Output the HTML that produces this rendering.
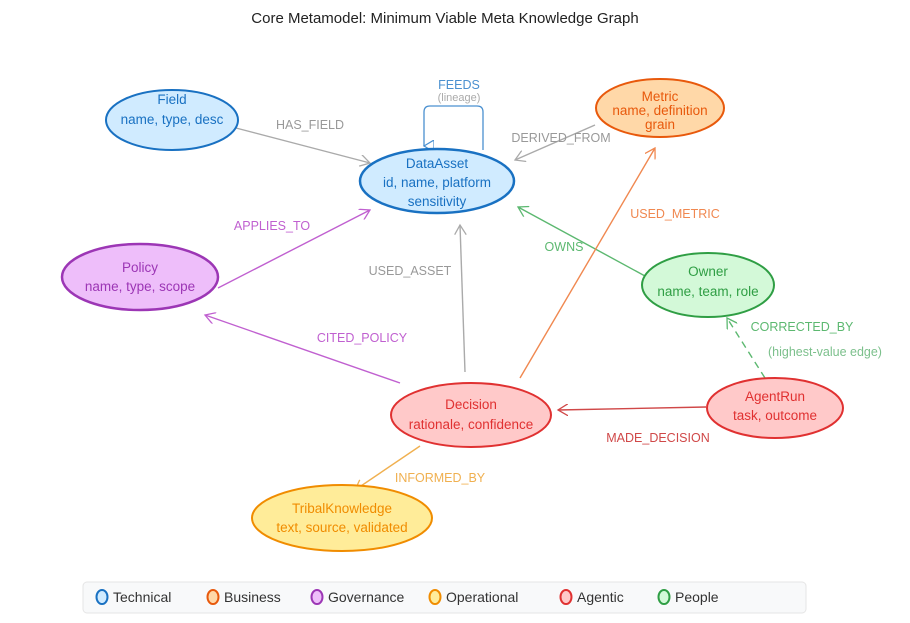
<!DOCTYPE html>
<html><head><meta charset="utf-8"><style>
html,body{margin:0;padding:0;background:#fff;}
svg{display:block;font-family:"Liberation Sans",sans-serif;}
</style></head><body>
<svg width="910" height="623" viewBox="0 0 910 623" xmlns="http://www.w3.org/2000/svg">
<defs>
<marker id="ag" markerWidth="12" markerHeight="12" refX="10" refY="6" orient="auto" markerUnits="userSpaceOnUse"><path d="M0,0 L10,6 L0,12" fill="none" stroke="#aaa" stroke-width="1.3"/></marker>
<marker id="ap" markerWidth="12" markerHeight="12" refX="10" refY="6" orient="auto" markerUnits="userSpaceOnUse"><path d="M0,0 L10,6 L0,12" fill="none" stroke="#c060d0" stroke-width="1.3"/></marker>
<marker id="agr" markerWidth="12" markerHeight="12" refX="10" refY="6" orient="auto" markerUnits="userSpaceOnUse"><path d="M0,0 L10,6 L0,12" fill="none" stroke="#5cb870" stroke-width="1.3"/></marker>
<marker id="ao" markerWidth="12" markerHeight="12" refX="10" refY="6" orient="auto" markerUnits="userSpaceOnUse"><path d="M0,0 L10,6 L0,12" fill="none" stroke="#f08850" stroke-width="1.3"/></marker>
<marker id="ar" markerWidth="12" markerHeight="12" refX="10" refY="6" orient="auto" markerUnits="userSpaceOnUse"><path d="M0,0 L10,6 L0,12" fill="none" stroke="#d04848" stroke-width="1.3"/></marker>
<marker id="ay" markerWidth="12" markerHeight="12" refX="10" refY="6" orient="auto" markerUnits="userSpaceOnUse"><path d="M0,0 L10,6 L0,12" fill="none" stroke="#f0b050" stroke-width="1.3"/></marker>
<marker id="ab" markerWidth="12" markerHeight="12" refX="6" refY="10" orient="auto" markerUnits="userSpaceOnUse"><path d="M0,0 L6,10 L12,0 Z" fill="none" stroke="#4a90d0" stroke-width="1.2"/></marker>
</defs>
<text x="445" y="23" text-anchor="middle" font-size="15" fill="#222">Core Metamodel: Minimum Viable Meta Knowledge Graph</text>

<line x1="236" y1="128" x2="370" y2="163" stroke="#aaa" stroke-width="1.4" marker-end="url(#ag)"/>
<path d="M483,150 L483,112 Q483,106 477,106 L430,106 Q424,106 424,112 L424,146" fill="none" stroke="#4a90d0" stroke-width="1.3" marker-end="url(#ab)"/>
<line x1="595" y1="125" x2="515" y2="160" stroke="#aaa" stroke-width="1.4" marker-end="url(#ag)"/>
<line x1="218" y1="288" x2="370" y2="210" stroke="#c060d0" stroke-width="1.4" marker-end="url(#ap)"/>
<line x1="465" y1="372" x2="460" y2="225" stroke="#aaa" stroke-width="1.4" marker-end="url(#ag)"/>
<line x1="645" y1="276" x2="518" y2="207" stroke="#5cb870" stroke-width="1.4" marker-end="url(#agr)"/>
<line x1="520" y1="378" x2="655" y2="148" stroke="#f08850" stroke-width="1.4" marker-end="url(#ao)"/>
<line x1="400" y1="383" x2="205" y2="315" stroke="#c060d0" stroke-width="1.4" marker-end="url(#ap)"/>
<line x1="765" y1="378" x2="727" y2="318" stroke="#5cb870" stroke-width="1.4" stroke-dasharray="7,5" marker-end="url(#agr)"/>
<line x1="706" y1="407" x2="558" y2="410" stroke="#d04848" stroke-width="1.4" marker-end="url(#ar)"/>
<line x1="420" y1="446" x2="355" y2="490" stroke="#f0b050" stroke-width="1.4" marker-end="url(#ay)"/>

<g font-size="12.5">
<text x="310" y="129" text-anchor="middle" fill="#999">HAS_FIELD</text>
<text x="459" y="89" text-anchor="middle" fill="#4a90d0">FEEDS</text>
<text x="459" y="101" text-anchor="middle" fill="#aaa" font-size="11">(lineage)</text>
<text x="561" y="142" text-anchor="middle" fill="#999">DERIVED_FROM</text>
<text x="272" y="230" text-anchor="middle" fill="#c060d0">APPLIES_TO</text>
<text x="410" y="275" text-anchor="middle" fill="#999">USED_ASSET</text>
<text x="564" y="251" text-anchor="middle" fill="#5cb870">OWNS</text>
<text x="675" y="218" text-anchor="middle" fill="#f08850">USED_METRIC</text>
<text x="362" y="342" text-anchor="middle" fill="#c060d0">CITED_POLICY</text>
<text x="802" y="331" text-anchor="middle" fill="#5cb870">CORRECTED_BY</text>
<text x="825" y="356" text-anchor="middle" fill="#7cc08c">(highest-value edge)</text>
<text x="658" y="442" text-anchor="middle" fill="#d04848">MADE_DECISION</text>
<text x="440" y="482" text-anchor="middle" fill="#f0b050">INFORMED_BY</text>
</g>

<g font-size="13.5" text-anchor="middle">
<ellipse cx="172" cy="120" rx="66" ry="30" fill="#d0ebff" stroke="#1971c2" stroke-width="2"/>
<text fill="#1971c2"><tspan x="172" y="104">Field</tspan><tspan x="172" y="124">name, type, desc</tspan></text>

<ellipse cx="437" cy="181" rx="77" ry="32" fill="#d0ebff" stroke="#1971c2" stroke-width="2.5"/>
<text fill="#1971c2"><tspan x="437" y="168">DataAsset</tspan><tspan x="437" y="187">id, name, platform</tspan><tspan x="437" y="206">sensitivity</tspan></text>

<ellipse cx="660" cy="108" rx="64" ry="29" fill="#ffd8a8" stroke="#e8590c" stroke-width="2"/>
<text fill="#e8590c"><tspan x="660" y="101">Metric</tspan><tspan x="660" y="115">name, definition</tspan><tspan x="660" y="129">grain</tspan></text>

<ellipse cx="140" cy="277" rx="78" ry="33" fill="#eebefa" stroke="#9c36b5" stroke-width="2.5"/>
<text fill="#9c36b5"><tspan x="140" y="272">Policy</tspan><tspan x="140" y="291">name, type, scope</tspan></text>

<ellipse cx="708" cy="285" rx="66" ry="32" fill="#d3f9d8" stroke="#2f9e44" stroke-width="2"/>
<text fill="#2f9e44"><tspan x="708" y="276">Owner</tspan><tspan x="708" y="296">name, team, role</tspan></text>

<ellipse cx="471" cy="415" rx="80" ry="32" fill="#ffc9c9" stroke="#e03131" stroke-width="2"/>
<text fill="#e03131"><tspan x="471" y="409">Decision</tspan><tspan x="471" y="429">rationale, confidence</tspan></text>

<ellipse cx="775" cy="408" rx="68" ry="30" fill="#ffc9c9" stroke="#e03131" stroke-width="2"/>
<text fill="#e03131"><tspan x="775" y="401">AgentRun</tspan><tspan x="775" y="420">task, outcome</tspan></text>

<ellipse cx="342" cy="518" rx="90" ry="33" fill="#ffec99" stroke="#f08c00" stroke-width="2"/>
<text fill="#f08c00"><tspan x="342" y="513">TribalKnowledge</tspan><tspan x="342" y="532">text, source, validated</tspan></text>
</g>

<rect x="83" y="582" width="723" height="31" rx="4" fill="#f8f9fa" stroke="#e5e5e5"/>
<g font-size="14" fill="#333">
<ellipse cx="102" cy="597" rx="5.5" ry="7" fill="#d0ebff" stroke="#1971c2" stroke-width="2"/><text x="113" y="602">Technical</text>
<ellipse cx="213" cy="597" rx="5.5" ry="7" fill="#ffd8a8" stroke="#e8590c" stroke-width="2"/><text x="224" y="602">Business</text>
<ellipse cx="317" cy="597" rx="5.5" ry="7" fill="#eebefa" stroke="#9c36b5" stroke-width="2"/><text x="328" y="602">Governance</text>
<ellipse cx="435" cy="597" rx="5.5" ry="7" fill="#ffec99" stroke="#f08c00" stroke-width="2"/><text x="446" y="602">Operational</text>
<ellipse cx="566" cy="597" rx="5.5" ry="7" fill="#ffc9c9" stroke="#e03131" stroke-width="2"/><text x="577" y="602">Agentic</text>
<ellipse cx="664" cy="597" rx="5.5" ry="7" fill="#d3f9d8" stroke="#2f9e44" stroke-width="2"/><text x="675" y="602">People</text>
</g>
</svg>
</body></html>
